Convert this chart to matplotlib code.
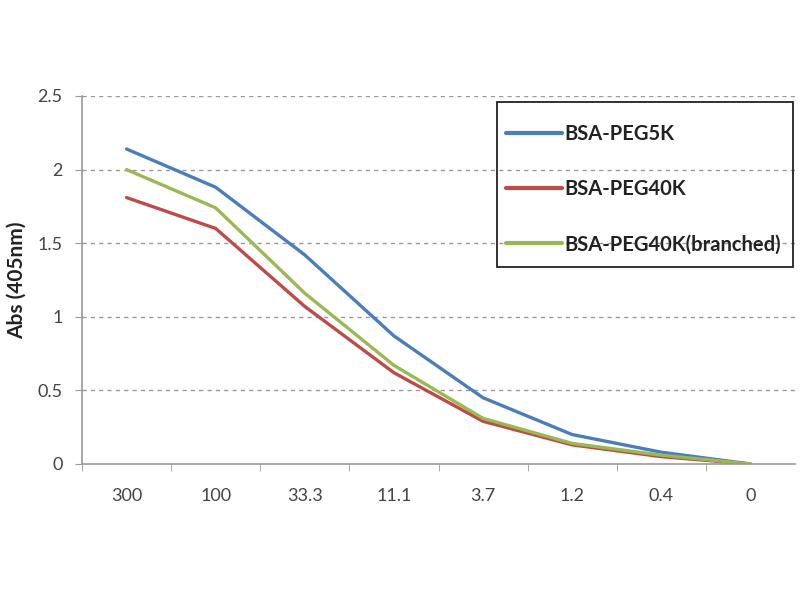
import matplotlib
matplotlib.use("Agg")
import matplotlib.pyplot as plt
from matplotlib.patches import Rectangle
import numpy as np

categories = ["300", "100", "33.3", "11.1", "3.7", "1.2", "0.4", "0"]
peg5k = [2.14, 1.88, 1.42, 0.87, 0.45, 0.20, 0.08, 0.0]
peg40k = [1.81, 1.60, 1.07, 0.62, 0.29, 0.13, 0.05, 0.0]
peg40k_br = [2.00, 1.74, 1.16, 0.67, 0.31, 0.14, 0.06, 0.0]
series_names = ["BSA-PEG5K", "BSA-PEG40K", "BSA-PEG40K(branched)"]
colors = ["#4A7EBB", "#BE4B48", "#98B954"]
yticks = [0, 0.5, 1, 1.5, 2, 2.5]
ytick_labels = ["0", "0.5", "1", "1.5", "2", "2.5"]

plt.rcParams['font.family'] = ['Lato', 'DejaVu Sans']

fig = plt.figure(figsize=(8, 6), dpi=100)
ax = fig.add_axes([82/800, 1-464/600, (795-82)/800, (464-96)/600])

x = np.arange(len(categories))
for vals, name, c in zip([peg5k, peg40k, peg40k_br], series_names, colors):
    ax.plot(x, vals, color=c, lw=2.4, label=name, solid_capstyle='round')

ax.set_xlim(-0.5, len(categories) - 0.5)
ax.set_ylim(0, 2.5)
ax.set_yticks(yticks)
ax.set_yticklabels(ytick_labels)
ax.set_xticks(x)
ax.set_xticklabels(categories)
ax.set_xticks(np.arange(len(categories)) - 0.5, minor=True)
ax.tick_params(axis='x', which='major', length=0, pad=17, labelsize=13, labelcolor='#444444')
ax.tick_params(axis='x', which='minor', length=5, color='#999999', direction='out')
ax.tick_params(axis='y', length=5, color='#999999', pad=9, labelsize=13, labelcolor='#444444')

for yv in yticks[1:]:
    ax.axhline(yv, color='#9a9a9a', lw=1.0, ls=(0, (3, 3)), zorder=0)

for s in ['top', 'right']:
    ax.spines[s].set_visible(False)
for s in ['left', 'bottom']:
    ax.spines[s].set_color('#999999')
    ax.spines[s].set_linewidth(1.2)

ax.set_ylabel("Abs (405nm)", fontsize=15, fontweight='bold', color='#222222')
ax.yaxis.set_label_coords((27-82)/713, 0.5)

# legend frame
fig.patches.append(Rectangle((497/800, 1-267/600), (793-497)/800, (267-102)/600,
                             transform=fig.transFigure, fill=False,
                             edgecolor='#222222', linewidth=1.3, zorder=5))

leg = fig.legend(loc='upper left', bbox_to_anchor=(506/800, 1-124/600),
                 bbox_transform=fig.transFigure, frameon=False,
                 handlelength=2.8, handletextpad=0.1, labelspacing=1.75,
                 borderpad=0, borderaxespad=0,
                 prop={'family': ['Lato', 'DejaVu Sans'], 'weight': 'bold', 'size': 14.5})
for t in leg.get_texts():
    t.set_color('#222222')
for h in leg.get_lines():
    h.set_linewidth(3)

fig.savefig("out.png", dpi=100)
